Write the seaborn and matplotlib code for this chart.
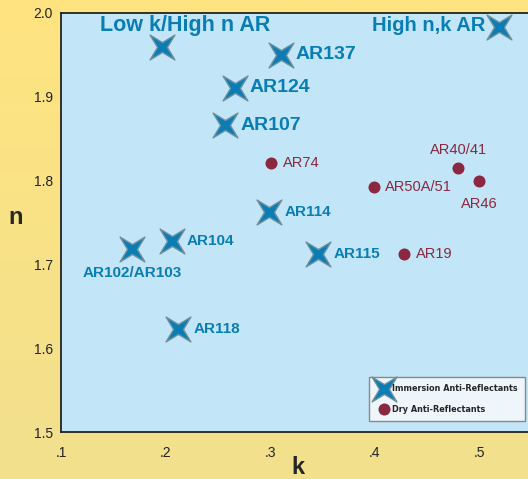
import matplotlib
matplotlib.use("Agg")
import matplotlib.pyplot as plt
import numpy as np
import pandas as pd
import seaborn as sns
from matplotlib.path import Path

# immersion anti-reflectants (k, n)
imm_names = ["", "", "AR137", "AR124", "AR107", "AR114", "AR104", "AR102/AR103", "AR115", "AR118"]
imm_k = [0.197, 0.519, 0.310, 0.266, 0.257, 0.299, 0.206, 0.168, 0.346, 0.212]
imm_n = [1.959, 1.983, 1.950, 1.911, 1.866, 1.762, 1.728, 1.718, 1.713, 1.623]

# dry anti-reflectants
dry_names = ["AR74", "AR50A/51", "AR40/41", "AR46", "AR19"]
dry_k = [0.301, 0.399, 0.480, 0.500, 0.428]
dry_n = [1.821, 1.792, 1.815, 1.800, 1.712]

x_ticks = [0.1, 0.2, 0.3, 0.4, 0.5]
x_labels = [".1", ".2", ".3", ".4", ".5"]
y_ticks = [1.5, 1.6, 1.7, 1.8, 1.9, 2.0]

blue = "#0a7db5"
red = "#8a2840"

imm = pd.DataFrame({"k": imm_k, "n": imm_n, "name": imm_names})
dry = pd.DataFrame({"k": dry_k, "n": dry_n, "name": dry_names})

# 4 point star, thin arms
ang = np.deg2rad(np.arange(0, 360, 45) + 45)
rad = np.where(np.arange(8) % 2 == 0, 1.0, 0.28)
verts = np.column_stack([rad * np.cos(ang), rad * np.sin(ang)])
verts = np.vstack([verts, verts[:1]])
star = Path(verts, [Path.MOVETO] + [Path.LINETO] * 7 + [Path.CLOSEPOLY])

sns.set_style("ticks")
plt.rcParams["font.family"] = ["Liberation Sans", "DejaVu Sans"]

fig = plt.figure(figsize=(5.28, 4.79), dpi=100)
# yellow gradient background
bg = fig.add_axes([0, 0, 1, 1], zorder=-5)
grad = np.linspace(0, 1, 256)[:, None]
bg.imshow(grad, aspect="auto", extent=[0, 1, 0, 1],
          cmap=matplotlib.colors.LinearSegmentedColormap.from_list("y", ["#f2e08e", "#ffe480"]),
          origin="lower")
bg.axis("off")

ax = fig.add_axes([0.1155, 0.098, 0.8845, 0.875])
ax.set_facecolor("#c2e6f7")

sns.scatterplot(data=imm, x="k", y="n", marker=star, s=320, color=blue,
                edgecolor="#6f8f9c", linewidth=1.0, label="Immersion Anti-Reflectants",
                ax=ax, zorder=3)
sns.scatterplot(data=dry, x="k", y="n", marker="o", s=75, color=red,
                edgecolor=red, linewidth=0, label="Dry Anti-Reflectants",
                ax=ax, zorder=3)

big = {"AR137": 14, "AR124": 14, "AR107": 14}
for _, r in imm.iterrows():
    if not r["name"]:
        continue
    fs = big.get(r["name"], 11)
    if r["name"] == "AR102/AR103":
        ax.text(r["k"], r["n"] - 0.028, r["name"], color=blue, fontsize=fs,
                fontweight="bold", ha="center", va="center", zorder=4)
    else:
        ax.text(r["k"] + 0.0145, r["n"], r["name"], color=blue, fontsize=fs,
                fontweight="bold", ha="left", va="center", zorder=4)

ax.text(0.137, 1.985, "Low k/High n AR", color=blue, fontsize=15.5,
        fontweight="bold", ha="left", va="center")
ax.text(0.506, 1.985, "High n,k AR", color=blue, fontsize=14.5,
        fontweight="bold", ha="right", va="center")

for _, r in dry.iterrows():
    if r["name"] == "AR40/41":
        ax.text(r["k"], r["n"] + 0.022, r["name"], color=red, fontsize=10.5,
                ha="center", va="center")
    elif r["name"] == "AR46":
        ax.text(r["k"], r["n"] - 0.028, r["name"], color=red, fontsize=10.5,
                ha="center", va="center")
    else:
        ax.text(r["k"] + 0.011, r["n"], r["name"], color=red, fontsize=10.5,
                ha="left", va="center")

ax.set_xlim(0.1, 0.5465)
ax.set_ylim(1.5, 2.0)
ax.set_xticks(x_ticks)
ax.set_xticklabels(x_labels)
ax.set_yticks(y_ticks)
ax.set_yticklabels([f"{v:.1f}" for v in y_ticks])
ax.tick_params(length=0, labelsize=10, colors="#222222")
ax.tick_params(axis="x", pad=10)
ax.tick_params(axis="y", pad=6)
for s in ["left", "bottom", "top"]:
    ax.spines[s].set_color("#222222")
    ax.spines[s].set_linewidth(1.3)
ax.spines["right"].set_visible(False)

ax.set_xlabel("k", fontsize=17, fontweight="bold")
ax.set_ylabel("n", fontsize=17, fontweight="bold", rotation=0)
ax.xaxis.set_label_coords(0.507, -0.084)
ax.yaxis.set_label_coords(-0.098, 0.513)
ax.xaxis.label.set_va("center")
ax.yaxis.label.set_va("center")

leg = ax.legend(loc="lower right", frameon=True, fancybox=False,
                prop={"family": "DejaVu Sans", "stretch": "condensed", "weight": "bold", "size": 6.5},
                borderpad=0.8, handletextpad=0.1, labelspacing=1.3, handlelength=1.7,
                borderaxespad=0.3, bbox_to_anchor=(1.0, 0.02))
leg.get_frame().set_facecolor("#eef6fb")
leg.get_frame().set_edgecolor("#888888")
leg.get_frame().set_alpha(1)

fig.savefig("out.png", dpi=100)
